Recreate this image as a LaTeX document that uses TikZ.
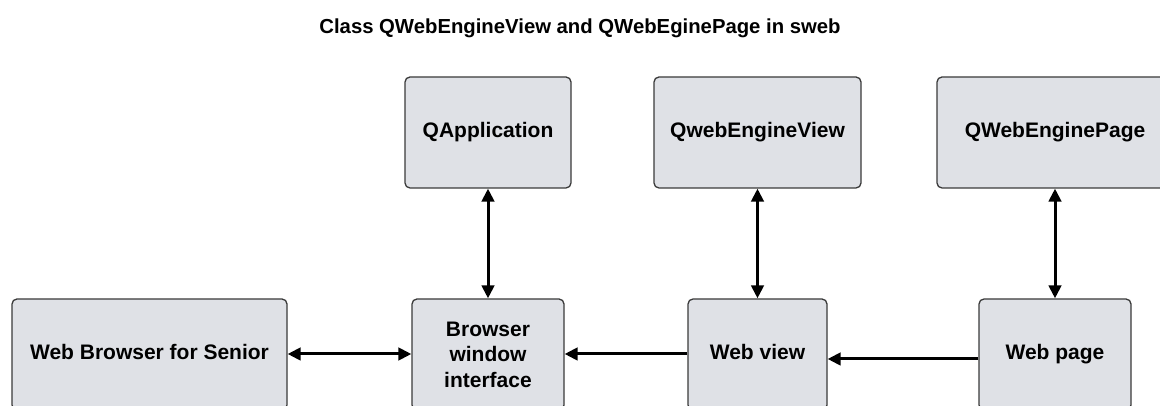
\documentclass[tikz,border=0pt]{standalone}
\usepackage{fontspec}
\setmainfont{Liberation Sans}
\usetikzlibrary{arrows.meta}
\definecolor{boxgray}{HTML}{DFE1E6}
\definecolor{boxline}{HTML}{3A3A3A}
\begin{document}
\begin{tikzpicture}[x=1pt,y=1pt,
  box/.style={draw=boxline, line width=1.3pt, fill=boxgray, rounded corners=5pt,
    inner sep=0pt, align=center, font=\bfseries\fontsize{21}{25.5}\selectfont},
  oneline/.style={text height=15pt, text depth=4.5pt},
  tip/.tip={Triangle[length=13pt,width=12.5pt]},
  link/.style={line width=3pt, draw=black}]
\useasboundingbox (0,0) rectangle (1160,406);

% title
\node[font=\bfseries\fontsize{20.3}{24}\selectfont] (title) at (580,378)
  {Class QWebEngineView and QWebEginePage in sweb};

% Qt classes (top row)
\node[box, oneline, minimum width=166pt, minimum height=111pt] (app)  at (488,273.5) {QApplication};
\node[box, oneline, minimum width=207pt, minimum height=111pt] (qview) at (757.5,273.5) {QwebEngineView};
\node[box, oneline, minimum width=236pt, minimum height=111pt] (qpage) at (1055,273.5) {QWebEnginePage};

% sweb components (bottom row)
\node[box, oneline, minimum width=275pt, minimum height=111pt] (senior)  at (149.5,51.5) {Web Browser for Senior};
\node[box, minimum width=152pt, minimum height=111pt] (browser) at (488,51.5) {Browser\\window\\interface};
\node[box, oneline, minimum width=139pt, minimum height=111pt] (webview) at (757.5,51.5) {Web view};
\node[box, oneline, minimum width=152pt, minimum height=111pt] (webpage) at (1055,51.5) {Web page};

% connectors
\draw[link, tip-tip] (app.south) -- (browser.north);
\draw[link, tip-tip] (qview.south) -- (webview.north);
\draw[link, tip-tip] (qpage.south) -- (webpage.north);
\draw[link, tip-tip] ([yshift=0.5pt]senior.east) -- ([yshift=0.5pt]browser.west);
\draw[link, -tip] ([yshift=0.5pt]webview.west) -- ([yshift=0.5pt]browser.east);
\draw[link, -tip] ([yshift=-4.5pt]webpage.west) -- ([yshift=-4.5pt]webview.east);
\end{tikzpicture}
\end{document}
